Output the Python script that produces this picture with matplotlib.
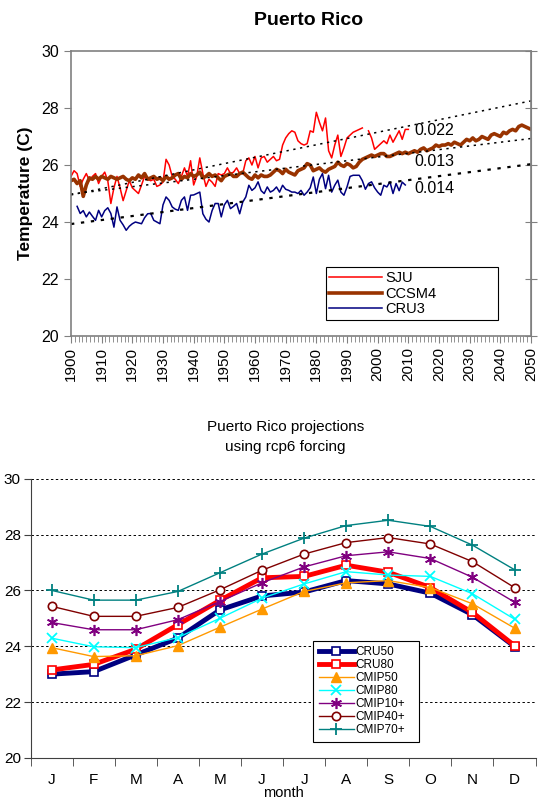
import numpy as np
import matplotlib
matplotlib.use("Agg")
import matplotlib.pyplot as plt
from matplotlib.ticker import MultipleLocator, FixedLocator

plt.rcParams['font.family'] = ['Liberation Sans', 'DejaVu Sans']

# ---- top chart data (annual values) ----
sju_years = np.arange(1900, 2011)
sju = [25.6, 25.8, 25.7, 25.25, 25.5, 25.7, 25.45, 25.6, 25.7, 25.35,
       25.6, 25.75, 25.45, 24.65, 25.2, 25.6, 25.2, 24.75, 25.1, 25.45,
       25.2, 25.1, 25.0, 25.3, 25.6, 25.5, 25.45, 25.5, 25.25, 25.3,
       25.4, 26.2, 26.0, 25.6, 25.5, 25.35, 25.6, 25.9, 25.6, 26.15,
       25.3, 25.6, 26.25, 25.7, 25.25, 25.5, 25.4, 25.25, 25.7, 25.65,
       25.7, 25.9, 25.7, 25.75, 25.9, 25.7, 25.7, 26.15, 26.25, 26.0,
       26.3, 25.9, 26.25, 26.3, 26.1, 26.2, 26.3, 26.15, 26.2, 26.7,
       26.95, 27.1, 27.2, 27.15, 26.85, 26.75, 26.7, 26.75, 27.2, 27.15,
       27.85, 27.5, 27.2, 27.65, 26.5, 26.25, 26.7, 27.05, 26.3, 26.6,
       26.95, 27.05, 27.15, 27.2, 27.25, 27.3, np.nan, 27.2, 26.95, 26.55,
       26.65, 26.75, 26.85, 26.75, 27.05, 26.8, 27.0, 27.2, 26.9, 27.25,
       27.25]

cru_years = np.arange(1902, 2010)
cru3 = [24.55, 24.3, 24.4, 24.18, 24.35, 24.2, 24.06, 24.41,
        24.18, 24.4, 24.5, 24.3, 23.82, 24.53, 24.06, 23.9, 23.71, 23.85,
        23.94, 24.0, 23.97, 23.94, 24.15, 24.29, 24.3, 24.06, 24.0, 23.94,
        24.6, 24.88, 24.76, 24.53, 24.45, 24.41, 24.76, 24.88, 24.41, 24.94,
        24.95, 25.0, 25.05, 24.29, 24.1, 24.0, 24.4, 24.65, 24.65, 24.18,
        24.6, 24.76, 24.47, 24.55, 24.65, 24.29, 24.7, 24.88, 25.29, 25.11,
        25.2, 25.41, 25.1, 25.0, 25.23, 25.05, 25.11, 25.23, 25.05, 25.29,
        25.15, 25.11, 25.05, 25.05, 25.0, 25.11, 24.94, 25.05, 25.2, 25.58,
        25.0, 25.5, 25.7, 25.17, 25.64, 25.05, 25.29, 25.47, 25.05, 24.94,
        25.23, 25.6, 25.64, 25.64, 25.64, 25.45, 25.15, 25.35, 25.41, 25.2,
        25.05, 24.94, 25.29, 25.23, 25.41, 25.0, 25.35, 25.1, 25.4, 25.3]

ccsm_years = np.arange(1900, 2051)
ccsm4 = [25.45, 25.5, 25.35, 25.45, 24.9, 25.3, 25.55, 25.5, 25.6, 25.5,
         25.6, 25.55, 25.5, 25.6, 25.55, 25.5, 25.55, 25.6, 25.5, 25.45,
         25.55, 25.5, 25.65, 25.55, 25.7, 25.5, 25.55, 25.6, 25.5, 25.55,
         25.45, 25.6, 25.5, 25.55, 25.65, 25.7, 25.5, 25.6, 25.55, 25.7,
         25.6, 25.65, 25.75, 25.55, 25.6, 25.7, 25.6, 25.65, 25.55, 25.45,
         25.6, 25.65, 25.7, 25.6, 25.6, 25.7, 25.75, 25.65, 25.55, 25.5,
         25.65, 25.55, 25.65, 25.6, 25.6, 25.65, 25.75, 25.85, 25.8, 25.7,
         25.85, 25.75, 25.7, 25.65, 25.8, 25.85, 25.9, 26.05, 26.0, 25.8,
         25.85, 25.9, 25.8, 25.75, 25.85, 25.9, 25.95, 26.1, 26.0, 25.95,
         26.05, 26.0, 25.9, 25.95, 26.1, 26.2, 26.25, 26.3, 26.35, 26.3,
         26.35, 26.4, 26.4, 26.3, 26.3, 26.35, 26.4, 26.45, 26.4, 26.45,
         26.4, 26.45, 26.5, 26.45, 26.55, 26.6, 26.5, 26.55, 26.6, 26.7,
         26.65, 26.7, 26.7, 26.75, 26.7, 26.8, 26.75, 26.7, 26.8, 26.9,
         26.85, 26.95, 26.85, 26.9, 27.0, 26.95, 26.9, 27.05, 27.1, 27.05,
         27.0, 27.15, 27.1, 27.2, 27.25, 27.2, 27.35, 27.4, 27.35, 27.3,
         27.25]

trend_span = np.array([1900, 2050])
trend_slopes = [0.022, 0.013, 0.014]
trend_start = [24.95, 24.98, 23.93]
trend_labels = ['0.022', '0.013', '0.014']

# ---- bottom chart data ----
months = ['J', 'F', 'M', 'A', 'M', 'J', 'J', 'A', 'S', 'O', 'N', 'D']
cru50 = [23.0, 23.09, 23.69, 24.29, 25.3, 25.8, 25.94, 26.35, 26.23, 25.9, 25.13, 23.99]
cru80 = [23.15, 23.35, 23.89, 24.77, 25.64, 26.45, 26.5, 26.9, 26.65, 26.1, 25.21, 24.02]
cmip50 = [23.95, 23.63, 23.66, 24.02, 24.68, 25.33, 25.96, 26.27, 26.35, 26.1, 25.52, 24.65]
cmip80 = [24.29, 23.98, 23.95, 24.31, 25.0, 25.72, 26.23, 26.67, 26.55, 26.5, 25.88, 24.97]
cmip10p = [24.85, 24.59, 24.59, 24.95, 25.6, 26.27, 26.84, 27.24, 27.38, 27.14, 26.47, 25.58]
cmip40p = [25.43, 25.07, 25.07, 25.39, 26.02, 26.72, 27.3, 27.71, 27.89, 27.66, 27.03, 26.1]
cmip70p = [26.0, 25.65, 25.65, 25.96, 26.63, 27.3, 27.87, 28.32, 28.51, 28.29, 27.62, 26.74]

gray = '#808080'

fig = plt.figure(figsize=(5.39, 8.02), dpi=100)

# ================= top chart =================
ax1 = fig.add_axes([0.1317, 0.581, 0.8535, 0.3554])
ax1.plot(sju_years, sju, color='#FF0000', lw=1.1, label='SJU')
ax1.plot(ccsm_years, ccsm4, color='#993300', lw=2.6, label='CCSM4')
ax1.plot(cru_years, cru3, color='#000080', lw=1.1, label='CRU3')
for slope, start, lw in zip(trend_slopes, trend_start, [1.1, 1.1, 1.6]):
    ax1.plot(trend_span, start + slope * (trend_span - 1900), color='black',
             ls=(0, (1.5, 3)), lw=lw)
for txt, ty in zip(trend_labels, [27.22, 26.14, 25.18]):
    ax1.text(2018.5, ty, txt, fontsize=11.5, ha='center', va='center')

ax1.set_xlim(1900, 2050)
ax1.set_ylim(20, 30)
ax1.set_yticks(np.arange(20, 31, 2))
ax1.set_xticks(np.arange(1900, 2051, 10))
ax1.xaxis.set_minor_locator(MultipleLocator(1.25))
ax1.tick_params(axis='x', which='major', labelsize=11, rotation=90, length=5,
                color=gray, pad=3)
ax1.tick_params(axis='x', which='minor', length=4, color=gray)
ax1.tick_params(axis='y', labelsize=11.5, length=5, color=gray)
for s in ax1.spines.values():
    s.set_color(gray)
    s.set_linewidth(1.2)
sec = ax1.secondary_yaxis('right')
sec.set_yticks(np.arange(20, 31, 2))
sec.tick_params(direction='inout', length=8, labelright=False, color=gray)
sec.spines['right'].set_color(gray)
ax1.set_ylabel('Temperature (C)', fontsize=12.5, fontweight='bold', labelpad=6)
fig.text(0.573, 0.974, 'Puerto Rico', fontsize=14, fontweight='bold',
         ha='center', va='center')
leg1 = ax1.legend(loc='lower left', bbox_to_anchor=(0.554, 0.056, 0.374, 0.175),
                  mode='expand', fontsize=10.5, handlelength=3.6, labelspacing=0.12,
                  borderpad=0.25, handletextpad=0.2, borderaxespad=0,
                  fancybox=False, edgecolor='black', framealpha=1)
leg1.get_frame().set_linewidth(0.8)

# ================= bottom chart =================
ax2 = fig.add_axes([0.0566, 0.0549, 0.937, 0.3483])
xm = np.arange(len(months))
series = [
    ('CRU50', cru50, dict(color='#000080', lw=3.5, marker='s', ms=6,
                          mfc='white', mec='#000080', mew=1.2)),
    ('CRU80', cru80, dict(color='#FF0000', lw=3.5, marker='s', ms=6,
                          mfc='white', mec='#FF0000', mew=1.2)),
    ('CMIP50', cmip50, dict(color='#FF9900', lw=1.0, marker='^', ms=7,
                            mfc='#FF9900', mec='#FF9900')),
    ('CMIP80', cmip80, dict(color='#00FFFF', lw=1.0, marker='x', ms=7, mew=1.3)),
    ('CMIP10+', cmip10p, dict(color='#800080', lw=1.0, marker=(6, 2, 0), ms=8,
                              mew=1.2)),
    ('CMIP40+', cmip40p, dict(color='#800000', lw=1.0, marker='o', ms=6,
                              mfc='white', mec='#800000', mew=1.2)),
    ('CMIP70+', cmip70p, dict(color='#008080', lw=1.0, marker='+', ms=9,
                              mew=1.3)),
]
for name, vals, kw in series:
    ax2.plot(xm, vals, label=name, **kw)

ax2.set_xlim(-0.5, 11.5)
ax2.set_ylim(20, 30)
ax2.set_yticks(np.arange(20, 31, 2))
for g in np.arange(22, 31, 2):
    ax2.axhline(g, color='black', lw=0.7, ls=(0, (2.5, 2.5)), zorder=0)
ax2.set_xticks(xm)
ax2.set_xticklabels(months)
ax2.xaxis.set_minor_locator(FixedLocator(np.arange(-0.5, 12, 1)))
ax2.tick_params(axis='x', which='major', length=0, labelsize=11, pad=11)
ax2.tick_params(axis='x', which='minor', length=6, color='#404040')
ax2.tick_params(axis='y', labelsize=11, length=5, color='#404040', pad=2)
ax2.spines['top'].set_visible(False)
ax2.spines['right'].set_visible(False)
ax2.spines['left'].set_color('#404040')
ax2.spines['bottom'].set_color('#404040')
ax2.set_xlabel('month', fontsize=10.5, labelpad=-1)
fig.text(0.529, 0.455, 'Puerto Rico projections\nusing rcp6 forcing', fontsize=11,
         ha='center', va='center', linespacing=1.6)
leg2 = ax2.legend(loc='lower left', bbox_to_anchor=(0.559, 0.057, 0.21, 0.354),
                  mode='expand', fontsize=8.5, handlelength=3.0, labelspacing=0.08,
                  borderpad=0.5, handletextpad=0.1, borderaxespad=0,
                  fancybox=False, edgecolor='black', framealpha=1)
leg2.get_frame().set_linewidth(0.8)

fig.savefig('out.png', dpi=100)
